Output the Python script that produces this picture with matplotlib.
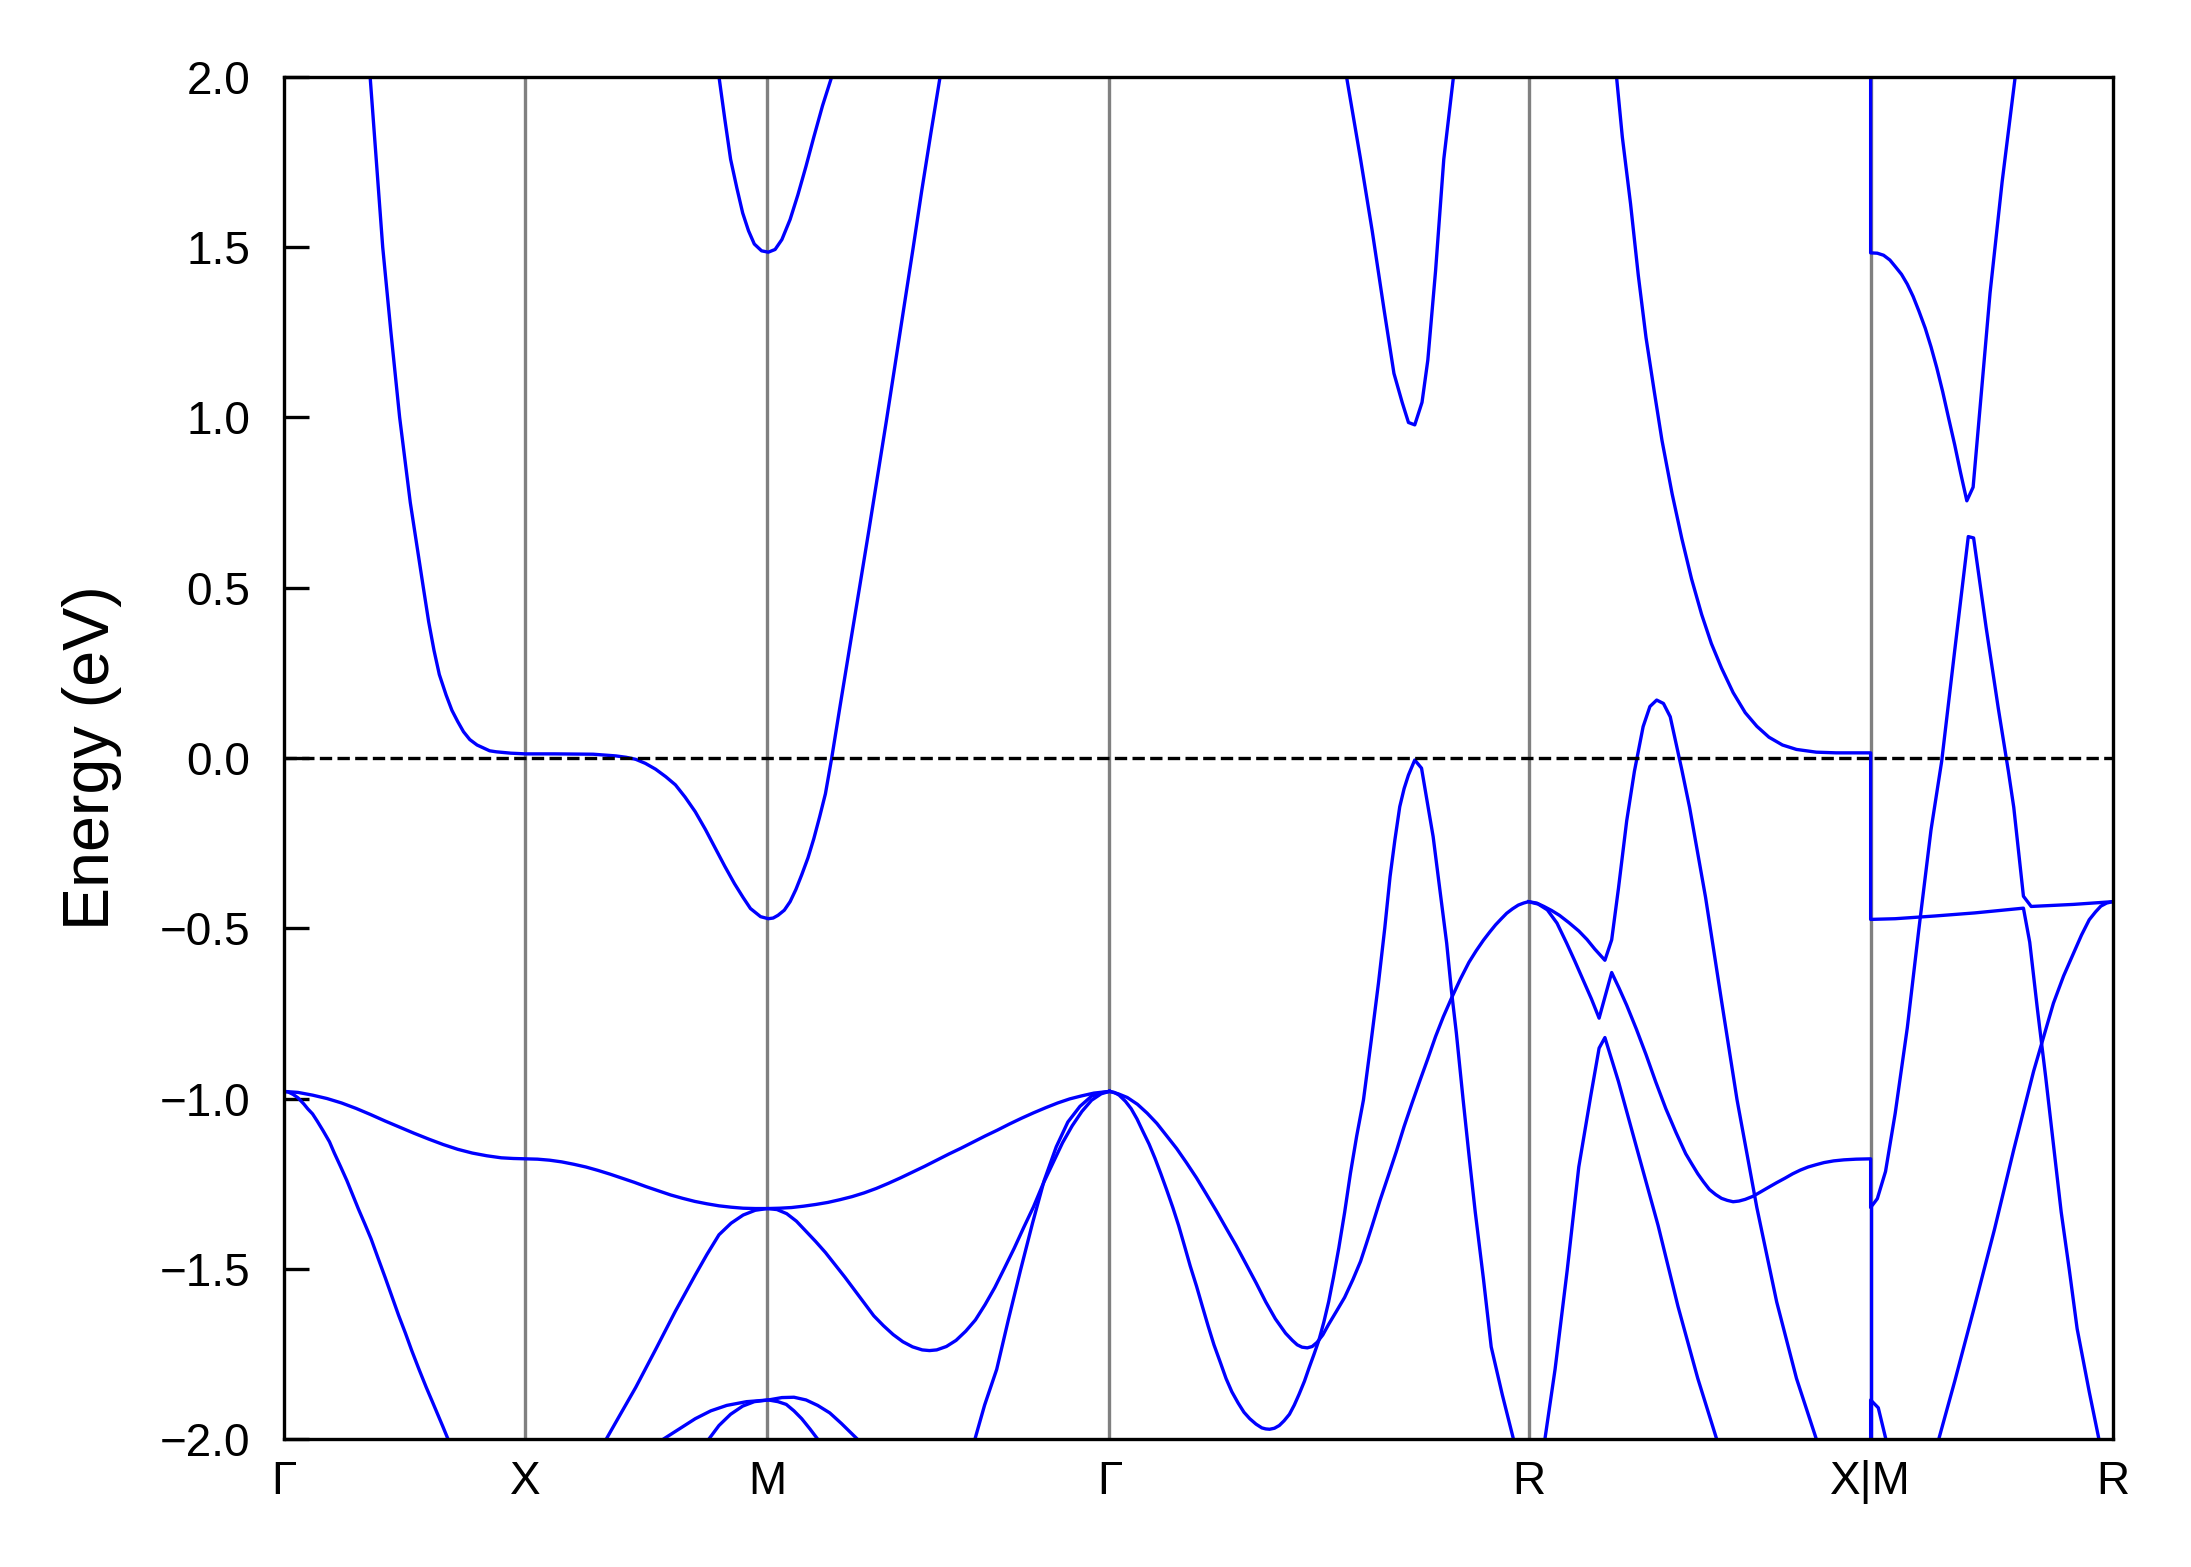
import matplotlib
matplotlib.use("Agg")
import matplotlib.pyplot as plt

plt.rcParams['font.family'] = ['Liberation Sans', 'DejaVu Sans']

# high-symmetry path (cumulative |k|, cubic lattice, a = 1)
k_nodes = [0.0, 0.5, 1.0, 1.7071, 2.5731, 3.2802, 3.7802]
k_labels = ['Γ', 'X', 'M', 'Γ', 'R', 'X|M', 'R']

# ---- bands (k, E in eV) ----
A_k = [0.179, 0.192, 0.205, 0.222, 0.240, 0.262, 0.289, 0.300, 0.311, 0.322, 0.336, 0.348, 0.360,
       0.372, 0.385, 0.400, 0.426, 0.440, 0.470, 0.500, 0.560, 0.640, 0.687, 0.708, 0.728, 0.748,
       0.769, 0.790, 0.810, 0.830, 0.851, 0.872, 0.892, 0.912, 0.932, 0.950, 0.965, 0.986, 1.002,
       1.012, 1.022, 1.035, 1.047, 1.059, 1.071, 1.084, 1.096, 1.108, 1.120, 1.133, 1.150, 1.169,
       1.191, 1.210, 1.228, 1.246, 1.264, 1.283, 1.301, 1.319, 1.338, 1.357]
A_E = [2.00, 1.75, 1.50, 1.25, 1.00, 0.75, 0.50, 0.40, 0.316, 0.245, 0.185, 0.14, 0.107,
       0.077, 0.054, 0.038, 0.021, 0.018, 0.014, 0.012, 0.012, 0.011, 0.006, 0.002, -0.004, -0.016,
       -0.033, -0.055, -0.079, -0.115, -0.158, -0.21, -0.264, -0.318, -0.369, -0.41, -0.442, -0.466,
       -0.472, -0.47, -0.462, -0.447, -0.422, -0.386, -0.343, -0.293, -0.237, -0.173, -0.105, 0.0,
       0.15, 0.315, 0.505, 0.67, 0.83, 0.99, 1.155, 1.33, 1.495, 1.665, 1.835, 2.0]

B_k = [0.900, 0.912, 0.924, 0.937, 0.949, 0.961, 0.973, 0.988, 1.002, 1.016, 1.030, 1.047, 1.063,
       1.080, 1.096, 1.114, 1.133]
B_E = [2.0, 1.876, 1.758, 1.673, 1.60, 1.548, 1.509, 1.489, 1.485, 1.493, 1.522, 1.581, 1.653,
       1.738, 1.823, 1.915, 2.0]

C_k = [0.0, 0.03, 0.06, 0.09, 0.12, 0.15, 0.18, 0.21, 0.24, 0.27, 0.30, 0.33, 0.36, 0.39, 0.42,
       0.45, 0.475, 0.5, 0.525, 0.55, 0.575, 0.60, 0.625, 0.65, 0.675, 0.70, 0.725, 0.75, 0.775,
       0.80, 0.825, 0.85, 0.875, 0.90, 0.925, 0.95, 0.975, 1.0, 1.025, 1.05, 1.075, 1.10, 1.125,
       1.15, 1.175, 1.20, 1.225, 1.25, 1.275, 1.30, 1.325, 1.35, 1.375, 1.40, 1.425, 1.45, 1.475,
       1.50, 1.525, 1.55, 1.575, 1.60, 1.625, 1.65, 1.675, 1.7071]
C_E = [-0.979, -0.982, -0.99, -1.0, -1.013, -1.029, -1.047, -1.066, -1.084, -1.102, -1.119, -1.135,
       -1.149, -1.16, -1.168, -1.174, -1.176, -1.177, -1.178, -1.181, -1.186, -1.193, -1.201, -1.211,
       -1.222, -1.234, -1.246, -1.259, -1.271, -1.283, -1.293, -1.302, -1.309, -1.315, -1.319,
       -1.322, -1.323, -1.323, -1.322, -1.320, -1.316, -1.311, -1.305, -1.297, -1.288, -1.277,
       -1.264, -1.249, -1.233, -1.216, -1.199, -1.181, -1.163, -1.146, -1.128, -1.11, -1.093,
       -1.075, -1.058, -1.042, -1.027, -1.013, -1.001, -0.992, -0.984, -0.979]

D_k = [0.0, 0.01, 0.02, 0.03, 0.042, 0.05, 0.06, 0.07, 0.082, 0.095, 0.105, 0.118, 0.131, 0.143,
       0.155, 0.168, 0.181, 0.195, 0.21, 0.224, 0.238, 0.252, 0.265, 0.28, 0.295, 0.307, 0.318,
       0.329, 0.340]
D_E = [-0.979, -0.981, -0.988, -0.998, -1.016, -1.03, -1.045, -1.067, -1.095, -1.127, -1.16, -1.2,
       -1.241, -1.283, -1.325, -1.368, -1.412, -1.467, -1.525, -1.581, -1.637, -1.689, -1.74, -1.795,
       -1.848, -1.888, -1.925, -1.962, -2.0]

E_k = [0.667, 0.697, 0.728, 0.769, 0.810, 0.851, 0.875, 0.900, 0.925, 0.950, 0.975, 1.000, 1.02,
       1.04, 1.06, 1.08, 1.10, 1.12, 1.14, 1.16, 1.18, 1.20, 1.22, 1.24, 1.26, 1.28, 1.30, 1.32,
       1.335, 1.35, 1.37, 1.39, 1.41, 1.43, 1.45, 1.47, 1.49, 1.51, 1.53, 1.55, 1.57, 1.59, 1.61,
       1.63, 1.65, 1.67, 1.69, 1.7071]
E_E = [-2.0, -1.925, -1.848, -1.737, -1.624, -1.518, -1.458, -1.40, -1.366, -1.342, -1.328, -1.323,
       -1.326, -1.338, -1.36, -1.39, -1.42, -1.452, -1.488, -1.524, -1.562, -1.60, -1.638, -1.667,
       -1.693, -1.714, -1.729, -1.738, -1.74, -1.738, -1.728, -1.710, -1.683, -1.65, -1.605,
       -1.555, -1.498, -1.44, -1.378, -1.318, -1.25, -1.19, -1.13, -1.08, -1.038, -1.005, -0.986,
       -0.979]

F_k = [1.429, 1.449, 1.474, 1.498, 1.523, 1.548, 1.572, 1.597, 1.621, 1.646, 1.670, 1.690, 1.7071]
F_E = [-2.0, -1.9, -1.795, -1.65, -1.505, -1.366, -1.241, -1.142, -1.069, -1.023, -0.993, -0.983,
       -0.979]

G1_k = [0.785, 0.818, 0.851, 0.883, 0.916, 0.957, 1.002, 1.030, 1.055, 1.080, 1.104, 1.129, 1.153,
        1.186]
G1_E = [-2.0, -1.97, -1.94, -1.917, -1.901, -1.89, -1.885, -1.878, -1.877, -1.885, -1.901, -1.923,
        -1.954, -2.0]

G2_k = [0.879, 0.900, 0.924, 0.949, 0.973, 1.002, 1.022, 1.039, 1.055, 1.071, 1.088, 1.104]
G2_E = [-2.0, -1.96, -1.927, -1.903, -1.89, -1.885, -1.89, -1.898, -1.917, -1.94, -1.97, -2.0]

H_k = [1.7071, 1.717, 1.727, 1.740, 1.752, 1.764, 1.776, 1.789, 1.801, 1.813, 1.825, 1.838, 1.850,
       1.862, 1.874, 1.887, 1.899, 1.911, 1.923, 1.936, 1.948, 1.960, 1.973, 1.985, 1.997, 2.010,
       2.022, 2.030, 2.038, 2.048, 2.058, 2.068, 2.079, 2.089, 2.099, 2.110, 2.120, 2.130, 2.140,
       2.150, 2.160, 2.170, 2.181, 2.193, 2.205, 2.218, 2.232, 2.248, 2.263, 2.276, 2.287, 2.297,
       2.307, 2.316, 2.325, 2.338, 2.352, 2.362, 2.376, 2.390, 2.404, 2.414, 2.424, 2.438, 2.450,
       2.463, 2.480, 2.496, 2.519, 2.542]
H_E = [-0.979, -0.982, -0.99, -1.008, -1.03, -1.06, -1.096, -1.134, -1.175, -1.22, -1.267, -1.32,
       -1.373, -1.432, -1.492, -1.551, -1.61, -1.668, -1.723, -1.774, -1.822, -1.861, -1.894, -1.921,
       -1.94, -1.956, -1.967, -1.97, -1.971, -1.968, -1.96, -1.946, -1.927, -1.90, -1.868, -1.83,
       -1.789, -1.75, -1.709, -1.657, -1.597, -1.525, -1.439, -1.335, -1.22, -1.11, -1.004, -0.83,
       -0.661, -0.50, -0.348, -0.24, -0.143, -0.09, -0.05, -0.006, -0.03, -0.114, -0.231, -0.388,
       -0.544, -0.686, -0.808, -1.004, -1.165, -1.333, -1.53, -1.729, -1.87, -2.0]

I_k = [1.7071, 1.725, 1.744, 1.765, 1.785, 1.805, 1.825, 1.846, 1.866, 1.887, 1.907, 1.928, 1.948,
       1.969, 1.989, 2.010, 2.030, 2.050, 2.071, 2.085, 2.095, 2.105, 2.116, 2.126, 2.136, 2.148,
       2.160, 2.176, 2.193, 2.210, 2.226, 2.238, 2.250, 2.266, 2.283, 2.300, 2.316, 2.332, 2.348,
       2.365, 2.381, 2.397, 2.414, 2.432, 2.450, 2.465, 2.480, 2.493, 2.505, 2.517, 2.528, 2.540,
       2.552, 2.563, 2.5731, 2.590, 2.605, 2.621, 2.637, 2.657, 2.677, 2.694, 2.710, 2.731, 2.745,
       2.759, 2.776, 2.792, 2.810, 2.824, 2.838, 2.852, 2.866, 2.890, 2.906, 2.939, 2.972, 3.004,
       3.045, 3.086, 3.127, 3.168]
I_E = [-0.979, -0.986, -0.997, -1.017, -1.043, -1.073, -1.109, -1.147, -1.188, -1.233, -1.28, -1.33,
       -1.38, -1.432, -1.485, -1.541, -1.597, -1.647, -1.689, -1.71, -1.723, -1.73, -1.732, -1.728,
       -1.716, -1.694, -1.663, -1.625, -1.584, -1.532, -1.478, -1.426, -1.373, -1.30, -1.228, -1.155,
       -1.082, -1.015, -0.95, -0.883, -0.818, -0.76, -0.705, -0.65, -0.60, -0.566, -0.535, -0.511,
       -0.49, -0.472, -0.456, -0.443, -0.432, -0.426, -0.422, -0.426, -0.436, -0.448, -0.462, -0.484,
       -0.508, -0.533, -0.561, -0.594, -0.534, -0.383, -0.185, -0.039, 0.092, 0.151, 0.170, 0.160,
       0.121, -0.035, -0.145, -0.409, -0.713, -1.003, -1.32, -1.597, -1.822, -2.0]

J_k = [2.5731, 2.593, 2.612, 2.632, 2.652, 2.669, 2.686, 2.703, 2.719, 2.745, 2.760, 2.776, 2.796,
       2.816, 2.836, 2.857, 2.878, 2.898, 2.911, 2.923, 2.935, 2.947, 2.960, 2.972, 2.984, 2.996,
       3.008, 3.021, 3.037, 3.053, 3.070, 3.086, 3.103, 3.119, 3.135, 3.151, 3.168, 3.184, 3.204,
       3.225, 3.250, 3.2802, 3.2802, 3.294, 3.311, 3.331, 3.356, 3.380, 3.405, 3.427, 3.454, 3.482,
       3.493, 3.519, 3.544, 3.565, 3.576, 3.596, 3.612, 3.699, 3.7802]
J_E = [-0.422, -0.429, -0.446, -0.485, -0.544, -0.597, -0.652, -0.707, -0.764, -0.630, -0.675,
       -0.726, -0.796, -0.871, -0.951, -1.03, -1.10, -1.162, -1.193, -1.221, -1.245, -1.267, -1.282,
       -1.293, -1.299, -1.303, -1.301, -1.296, -1.287, -1.274, -1.26, -1.247, -1.234, -1.221,
       -1.21, -1.201, -1.194, -1.188, -1.183, -1.18, -1.178, -1.177, -1.32, -1.294, -1.214, -1.043,
       -0.792, -0.501, -0.211, -0.01, 0.316, 0.65, 0.646, 0.382, 0.146, -0.04, -0.145, -0.406,
       -0.436, -0.43, -0.422]

L_k = [2.607, 2.628, 2.653, 2.677, 2.702, 2.719, 2.731, 2.759, 2.800, 2.841, 2.882, 2.923, 2.962]
L_E = [-2.0, -1.795, -1.505, -1.201, -0.99, -0.852, -0.821, -0.95, -1.162, -1.373, -1.61, -1.822, -2.0]

N_k = [2.755, 2.767, 2.784, 2.800, 2.816, 2.833, 2.849, 2.870, 2.890, 2.910, 2.931, 2.951, 2.972,
       2.996, 3.021, 3.045, 3.070, 3.098, 3.127, 3.168, 3.209, 3.2802,
       3.2802, 3.331, 3.413, 3.495, 3.596, 3.609, 3.625, 3.642, 3.658, 3.674, 3.691, 3.707, 3.732,
       3.752]
N_E = [2.0, 1.823, 1.627, 1.417, 1.234, 1.076, 0.932, 0.775, 0.644, 0.526, 0.421, 0.336, 0.264,
       0.192, 0.133, 0.093, 0.061, 0.038, 0.025, 0.017, 0.015, 0.015,
       -0.474, -0.472, -0.464, -0.455, -0.441, -0.541, -0.739, -0.937, -1.135, -1.333, -1.505,
       -1.676, -1.861, -2.0]

P_k = [3.2802, 3.2802, 3.296, 3.311]
P_E = [-2.0, -1.885, -1.908, -1.996]

Q_k = [3.2802, 3.2802]
Q_E = [-2.0, -1.32]

T_k = [3.421, 3.454, 3.495, 3.536, 3.576, 3.617, 3.658, 3.679, 3.699, 3.716, 3.732, 3.745, 3.756,
       3.768, 3.7802]
T_E = [-2.0, -1.83, -1.61, -1.385, -1.15, -0.92, -0.72, -0.64, -0.575, -0.52, -0.475, -0.452,
       -0.435, -0.426, -0.422]

U_k = [2.197, 2.226, 2.250, 2.275, 2.295, 2.312, 2.325, 2.338, 2.353, 2.365, 2.381, 2.398, 2.418]
U_E = [2.0, 1.758, 1.548, 1.312, 1.129, 1.044, 0.985, 0.978, 1.044, 1.168, 1.43, 1.758, 2.0]

W_k = [3.2802, 3.2802, 3.294, 3.307, 3.320, 3.331, 3.344, 3.356, 3.368, 3.380, 3.393, 3.405, 3.417,
       3.429, 3.441, 3.454, 3.466, 3.479, 3.492, 3.527, 3.552, 3.579]
W_E = [2.0, 1.483, 1.482, 1.476, 1.462, 1.443, 1.42, 1.391, 1.355, 1.312, 1.262, 1.207, 1.145,
       1.076, 1.0, 0.919, 0.838, 0.755, 0.795, 1.365, 1.692, 2.0]

bands = [(A_k, A_E), (B_k, B_E), (C_k, C_E), (D_k, D_E), (E_k, E_E), (F_k, F_E), (G1_k, G1_E),
         (G2_k, G2_E), (H_k, H_E), (I_k, I_E), (J_k, J_E), (L_k, L_E), (N_k, N_E), (P_k, P_E),
         (Q_k, Q_E), (T_k, T_E), (U_k, U_E), (W_k, W_E)]

fig = plt.figure(figsize=(2191 / 300, 1567 / 300), dpi=300)
ax = fig.add_axes([0.1294, 0.0816, 0.9642 - 0.1294, 0.951 - 0.0816])

for kn in k_nodes[1:-1]:
    ax.axvline(kn, color='gray', lw=0.8, zorder=1)

for kk, ee in bands:
    ax.plot(kk, ee, color='blue', lw=0.8, zorder=2)

ax.axhline(0.0, color='black', lw=0.8, ls='--', zorder=3)

ax.set_xlim(k_nodes[0], k_nodes[-1])
ax.set_ylim(-2.0, 2.0)
ax.set_xticks(k_nodes)
ax.set_xticklabels(k_labels)
ax.set_yticks([-2.0, -1.5, -1.0, -0.5, 0.0, 0.5, 1.0, 1.5, 2.0])
ax.set_yticklabels(['−2.0', '−1.5', '−1.0', '−0.5', '0.0', '0.5', '1.0', '1.5', '2.0'])
ax.tick_params(axis='y', direction='in', length=6, width=0.8, labelsize=11, pad=8)
ax.tick_params(axis='x', length=0, labelsize=11, pad=5)
for sp in ax.spines.values():
    sp.set_linewidth(0.8)
ax.set_ylabel('Energy (eV)', fontsize=15.5, labelpad=9)

fig.savefig('out.png', dpi=300)
